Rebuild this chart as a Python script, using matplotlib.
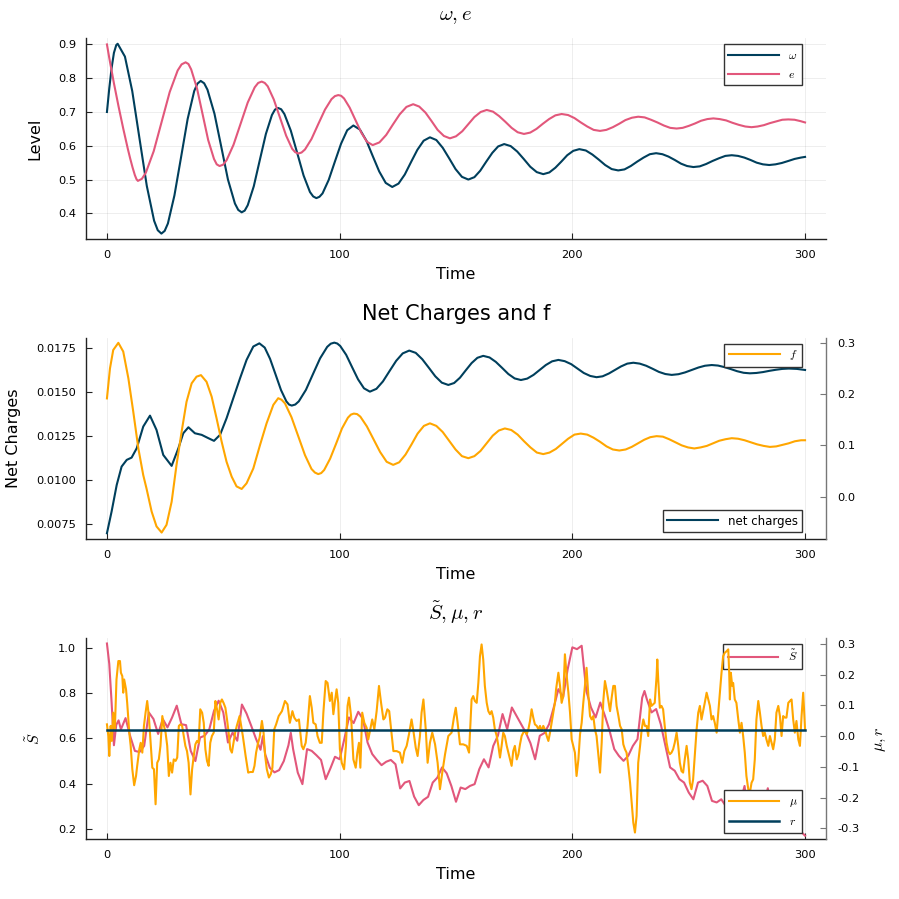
import matplotlib
matplotlib.use('Agg')
import matplotlib.pyplot as plt
from matplotlib.ticker import FormatStrFormatter

plt.rcParams['font.family'] = ['DejaVu Sans']
plt.rcParams['mathtext.fontset'] = 'cm'

DARK = '#003f5c'
PINK = '#e2577b'
ORANGE = '#ffa600'

# ---- panel 1: omega, e ----
omega_t = [0, 1, 2, 3, 4, 4.6,
           7.73, 10.87, 14.0, 17.13, 20.27, 21.83, 23.4, 24.81,
           26.2, 29.0, 31.85, 34.67, 37.5, 38.89, 40.3, 41.77,
           43.2, 46.2, 49.1, 52.0, 55.0, 56.43, 57.9, 59.2,
           60.5, 63.1, 65.7, 68.3, 70.9, 72.2, 73.5, 74.88,
           76.25, 79.0, 81.75, 84.5, 87.25, 88.63, 90.0, 91.33,
           92.65, 95.3, 97.95, 100.6, 103.25, 105.9,
           108.7, 111.5, 114.25, 117.0, 119.8, 122.6,
           125.3, 128.0, 130.7, 133.4, 136.1, 138.8,
           141.55, 144.3, 147.05, 149.8, 152.55, 155.3,
           157.9, 160.4, 163.0, 165.6, 168.1, 170.7,
           173.5, 176.3, 179.1, 181.9, 184.7, 187.5,
           190.1, 192.7, 195.25, 197.8, 200.4, 203.0,
           205.8, 208.6, 211.35, 214.1, 216.9, 219.7,
           222.4, 225.1, 227.85, 230.6, 233.3, 236.0,
           238.7, 241.3, 244.0, 246.7, 249.3, 252.0,
           254.75, 257.5, 260.25, 263.0, 265.75, 268.5,
           271.2, 273.9, 276.55, 279.2, 281.9, 284.6,
           287.3, 290.0, 292.8, 295.5, 298.2, 300]
omega = [0.700, 0.770, 0.830, 0.875, 0.898, 0.902,
         0.864, 0.762, 0.621, 0.481, 0.378, 0.350, 0.340, 0.348,
         0.370, 0.453, 0.566, 0.679, 0.762, 0.784, 0.792, 0.785,
         0.766, 0.695, 0.598, 0.500, 0.429, 0.410, 0.403, 0.408,
         0.424, 0.480, 0.558, 0.635, 0.691, 0.707, 0.712, 0.708,
         0.694, 0.645, 0.579, 0.512, 0.463, 0.450, 0.445, 0.449,
         0.459, 0.499, 0.553, 0.606, 0.646, 0.660,
         0.648, 0.615, 0.569, 0.524, 0.490, 0.478,
         0.488, 0.515, 0.552, 0.588, 0.615, 0.625,
         0.617, 0.594, 0.563, 0.531, 0.508, 0.500,
         0.507, 0.526, 0.553, 0.579, 0.598, 0.605,
         0.599, 0.583, 0.561, 0.538, 0.522, 0.516,
         0.521, 0.535, 0.553, 0.572, 0.585, 0.590,
         0.586, 0.574, 0.559, 0.543, 0.531, 0.527,
         0.530, 0.540, 0.553, 0.565, 0.575, 0.578,
         0.575, 0.568, 0.558, 0.547, 0.540, 0.537,
         0.539, 0.546, 0.555, 0.563, 0.570, 0.572,
         0.570, 0.565, 0.558, 0.550, 0.545, 0.543,
         0.545, 0.549, 0.555, 0.561, 0.565, 0.567]

e_t = [0, 1, 2, 3, 4, 5, 6, 7, 8, 9, 10, 11, 12, 12.7, 13.3,
       15.0, 16.7, 20.1, 23.55, 26.97, 30.4, 32.09, 33.8, 35.02,
       36.2, 38.7, 41.1, 43.5, 46.0, 47.18, 48.4, 49.91,
       51.4, 54.4, 57.45, 60.5, 63.5, 64.99, 66.5, 67.81,
       69.1, 71.7, 74.35, 77.0, 79.6, 80.89, 82.2, 83.63,
       85.1, 87.9, 90.8, 93.7, 96.5, 97.97, 99.4, 100.63,
       101.9, 104.3, 106.8, 109.3, 111.7, 114.2,
       117.1, 120.0, 122.9, 125.8, 128.7, 131.6,
       134.2, 136.9, 139.5, 142.1, 144.8, 147.4,
       150.0, 152.7, 155.3, 157.9, 160.6, 163.2,
       165.9, 168.5, 171.2, 173.9, 176.5, 179.2,
       181.9, 184.6, 187.3, 190.0, 192.7, 195.4,
       198.15, 200.9, 203.65, 206.4, 209.15, 211.9,
       214.6, 217.4, 220.1, 222.8, 225.6, 228.3,
       231.05, 233.8, 236.55, 239.3, 242.05, 244.8,
       247.4, 250.1, 252.7, 255.3, 258.0, 260.6,
       263.3, 266.1, 268.8, 271.5, 274.3, 277.0,
       279.6, 282.3, 284.9, 287.5, 290.2, 292.8,
       295.5, 298.0, 300]
e_vals = [0.900, 0.860, 0.822, 0.785, 0.750, 0.716, 0.683, 0.651, 0.620, 0.590,
          0.562, 0.536, 0.513, 0.501, 0.496,
          0.502, 0.520, 0.584, 0.672, 0.759, 0.823, 0.841, 0.847, 0.842,
          0.826, 0.770, 0.694, 0.617, 0.561, 0.545, 0.540, 0.544,
          0.557, 0.603, 0.665, 0.728, 0.773, 0.786, 0.790, 0.786,
          0.776, 0.737, 0.684, 0.630, 0.591, 0.581, 0.577, 0.580,
          0.589, 0.620, 0.664, 0.707, 0.738, 0.747, 0.750, 0.748,
          0.740, 0.713, 0.676, 0.639, 0.612, 0.602,
          0.610, 0.632, 0.663, 0.693, 0.715, 0.723,
          0.716, 0.698, 0.673, 0.647, 0.629, 0.622,
          0.628, 0.643, 0.664, 0.685, 0.700, 0.706,
          0.701, 0.688, 0.671, 0.653, 0.640, 0.635,
          0.639, 0.650, 0.665, 0.679, 0.690, 0.694,
          0.691, 0.682, 0.669, 0.657, 0.647, 0.644,
          0.647, 0.655, 0.665, 0.676, 0.683, 0.686,
          0.684, 0.677, 0.669, 0.660, 0.653, 0.651,
          0.653, 0.659, 0.666, 0.674, 0.679, 0.681,
          0.679, 0.675, 0.668, 0.662, 0.657, 0.655,
          0.657, 0.661, 0.667, 0.672, 0.677, 0.678,
          0.677, 0.673, 0.669]

# ---- panel 2: net charges (left), f (right) ----
nc_t = [0, 2.0, 4.2, 6.3, 8.5, 10.6, 12.8, 15.6, 18.5, 21.3,
        24.2, 27.8, 30.7, 32.8, 35.0, 37.8, 40.7, 43.6, 46.0, 48.6,
        51.4, 54.3, 57.2, 60.0, 62.9, 65.5,
        67.8, 70.1, 72.45, 74.8, 77.1, 78.24, 79.4, 80.93,
        82.45, 85.5, 88.55, 91.6, 94.65, 96.18, 97.7, 98.98,
        100.25, 102.8, 105.35, 107.9, 110.45, 113.0,
        115.8, 118.6, 121.45, 124.3, 127.1, 129.9,
        132.7, 135.5, 138.3, 141.1, 143.9, 146.7,
        149.2, 151.7, 154.2, 156.7, 159.2, 161.7,
        164.4, 167.1, 169.8, 172.5, 175.2, 177.9,
        180.6, 183.3, 185.95, 188.6, 191.3, 194.0,
        196.7, 199.5, 202.2, 204.9, 207.7, 210.4,
        213.0, 215.7, 218.3, 220.9, 223.6, 226.2,
        228.95, 231.7, 234.45, 237.2, 239.95, 242.7,
        245.6, 248.4, 251.3, 254.2, 257.0, 259.9,
        262.6, 265.4, 268.1, 270.8, 273.6, 276.3,
        279.1, 281.9, 284.65, 287.4, 290.2, 293.0,
        296.5, 300]
net_charges = [0.00699, 0.00822, 0.00973, 0.01077, 0.01115, 0.01128, 0.01181, 0.01304, 0.01366, 0.01285,
               0.01143, 0.01081, 0.01181, 0.01266, 0.01300, 0.01266, 0.01257, 0.01238, 0.01223, 0.01257,
               0.01351, 0.01465, 0.01578, 0.01682, 0.01758, 0.01776,
               0.01752, 0.01688, 0.01600, 0.01511, 0.01447, 0.01429, 0.01423, 0.01429,
               0.01447, 0.01512, 0.01602, 0.01691, 0.01756, 0.01774, 0.01780, 0.01775,
               0.01761, 0.01711, 0.01641, 0.01572, 0.01521, 0.01502,
               0.01518, 0.01560, 0.01619, 0.01677, 0.01719, 0.01735,
               0.01722, 0.01686, 0.01638, 0.01589, 0.01553, 0.01540,
               0.01551, 0.01581, 0.01623, 0.01664, 0.01694, 0.01705,
               0.01696, 0.01671, 0.01637, 0.01602, 0.01577, 0.01568,
               0.01576, 0.01597, 0.01625, 0.01653, 0.01674, 0.01682,
               0.01675, 0.01658, 0.01633, 0.01608, 0.01591, 0.01584,
               0.01589, 0.01605, 0.01625, 0.01645, 0.01661, 0.01666,
               0.01661, 0.01649, 0.01632, 0.01614, 0.01602, 0.01597,
               0.01601, 0.01611, 0.01625, 0.01639, 0.01649, 0.01653,
               0.01650, 0.01641, 0.01630, 0.01618, 0.01609, 0.01606,
               0.01608, 0.01613, 0.01620, 0.01626, 0.01631, 0.01633,
               0.01631, 0.01625]

f_t = [0, 1.3, 2.7, 4.9, 7.0, 9.2, 11.3, 13.5, 15.6, 17.0,
       19.2, 21.3, 23.5, 25.6, 27.8, 29.9, 32.1, 34.2, 36.4, 38.5,
       40.4, 42.8, 45.0, 47.1, 49.3, 51.4, 53.6, 55.7, 57.9, 60.0,
       62.9, 65.8, 68.6, 71.5, 73.6,
       75.03, 76.5, 79.3, 82.2, 85.1, 87.9, 89.37, 90.8, 92.08,
       93.35, 95.9, 98.45, 101.0, 103.55, 104.83, 106.1, 107.51,
       108.9, 111.7, 114.55, 117.4, 120.2, 123.0,
       125.6, 128.3, 130.9, 133.5, 136.2, 138.8,
       141.55, 144.3, 147.05, 149.8, 152.55, 155.3,
       157.9, 160.5, 163.15, 165.8, 168.4, 171.0,
       173.75, 176.5, 179.25, 182.0, 184.75, 187.5,
       190.2, 192.9, 195.55, 198.2, 200.9, 203.6,
       206.4, 209.1, 211.9, 214.7, 217.4, 220.2,
       222.9, 225.5, 228.2, 230.9, 233.5, 236.2,
       238.9, 241.6, 244.3, 247.0, 249.7, 252.4,
       255.1, 257.8, 260.45, 263.1, 265.8, 268.5,
       271.2, 274.0, 276.7, 279.4, 282.2, 284.9,
       287.6, 290.3, 292.95, 295.6, 298.3, 300]
f_vals = [0.1916, 0.250, 0.286, 0.300, 0.283, 0.231, 0.166, 0.094, 0.042, 0.016,
          -0.029, -0.058, -0.070, -0.055, -0.010, 0.062, 0.127, 0.185, 0.221, 0.234,
          0.237, 0.224, 0.195, 0.153, 0.107, 0.068, 0.039, 0.020, 0.015, 0.026,
          0.055, 0.101, 0.143, 0.179, 0.192,
          0.189, 0.182, 0.155, 0.118, 0.081, 0.054, 0.047, 0.044, 0.046,
          0.052, 0.074, 0.103, 0.133, 0.154, 0.160, 0.162, 0.161,
          0.156, 0.137, 0.112, 0.087, 0.068, 0.062,
          0.067, 0.082, 0.102, 0.123, 0.138, 0.143,
          0.138, 0.126, 0.109, 0.092, 0.079, 0.075,
          0.079, 0.089, 0.104, 0.119, 0.129, 0.133,
          0.130, 0.121, 0.108, 0.096, 0.086, 0.083,
          0.086, 0.093, 0.103, 0.113, 0.121, 0.123,
          0.121, 0.115, 0.107, 0.098, 0.092, 0.090,
          0.092, 0.097, 0.104, 0.111, 0.116, 0.118,
          0.117, 0.112, 0.106, 0.100, 0.096, 0.094,
          0.096, 0.099, 0.104, 0.109, 0.112, 0.114,
          0.113, 0.110, 0.106, 0.102, 0.099, 0.097,
          0.098, 0.101, 0.104, 0.108, 0.110, 0.110]

# ---- panel 3: S tilde (left), mu and r (right) ----
s_t = [0, 1, 2, 3, 4, 5, 6, 8, 10, 12,
       14, 16, 18, 20, 22, 24, 26, 28, 30, 32,
       34, 36, 38, 40, 42, 44, 46, 48, 50, 52,
       54, 56, 58, 60, 62, 64, 66, 67, 68, 70,
       72, 74, 76, 78, 79, 80, 82, 84, 86, 88,
       90, 92, 94, 96, 98, 100, 102, 104, 106, 108,
       110, 112, 114, 116, 118, 120, 122, 124, 126, 128,
       130, 132, 134, 136, 138, 140, 142, 144, 146, 148,
       150, 152, 154, 156, 158, 160, 162, 164, 166, 168,
       170, 172, 174, 176, 178, 180, 182, 184, 186, 188,
       190, 192, 194, 196, 198, 200, 202, 204, 206, 208,
       210, 212, 214, 216, 218, 220, 222, 224, 226, 228,
       230, 231, 232, 234, 236, 238, 240, 242, 244, 246,
       248, 250, 252, 254, 256, 258, 260, 262, 264, 266,
       268, 270, 272, 274, 275, 276, 278, 280, 282, 284,
       285, 286, 288, 290, 292, 294, 296, 298, 300]
s_tilde = [1.02, 0.93, 0.76, 0.57, 0.66, 0.68, 0.64, 0.69, 0.61, 0.545,
           0.54, 0.567, 0.715, 0.686, 0.62, 0.686, 0.649, 0.693, 0.745, 0.663,
           0.659, 0.545, 0.50, 0.604, 0.612, 0.641, 0.722, 0.767, 0.715, 0.582,
           0.626, 0.59, 0.75, 0.71, 0.656, 0.60, 0.55, 0.61, 0.53, 0.47,
           0.45, 0.46, 0.50, 0.57, 0.625, 0.553, 0.449, 0.398, 0.553, 0.545,
           0.526, 0.505, 0.42, 0.467, 0.519, 0.508, 0.597, 0.693, 0.668, 0.718,
           0.686, 0.582, 0.531, 0.505, 0.482, 0.497, 0.505, 0.486, 0.379, 0.405,
           0.412, 0.343, 0.305, 0.328, 0.342, 0.405, 0.427, 0.472, 0.446, 0.39,
           0.32, 0.383, 0.376, 0.39, 0.398, 0.464, 0.508, 0.472, 0.567, 0.612,
           0.708, 0.641, 0.737, 0.70, 0.663, 0.626, 0.579, 0.508, 0.612, 0.624,
           0.663, 0.737, 0.818, 0.781, 0.907, 1.003, 0.995, 1.01, 0.811, 0.737,
           0.693, 0.759, 0.70, 0.634, 0.553, 0.523, 0.501, 0.523, 0.567, 0.597,
           0.78, 0.81, 0.774, 0.715, 0.73, 0.663, 0.567, 0.472, 0.457, 0.42,
           0.405, 0.361, 0.331, 0.405, 0.413, 0.39, 0.324, 0.317, 0.331, 0.30,
           0.29, 0.30, 0.31, 0.39, 0.30, 0.28, 0.29, 0.30, 0.29, 0.38,
           0.30, 0.28, 0.27, 0.26, 0.25, 0.23, 0.22, 0.19, 0.17]

mu_t = [0, 0.6, 1.0, 1.6, 2.1, 2.7, 3.4, 4.1, 4.9, 5.6,
        6.0, 6.6, 7.0, 7.4, 8.2, 8.7, 9.1, 9.6, 10.2, 10.9,
        11.7, 12.5, 13.0, 13.9, 14.5, 15.2, 15.9, 16.6, 17.3, 18.0,
        18.8, 19.5, 20.2, 20.9, 21.6, 22.3, 23.0, 23.8, 24.5, 25.2,
        25.9, 26.6, 27.3, 28.0, 28.7, 29.5, 30.2, 30.9, 31.6, 32.3,
        33.0, 33.7, 34.4, 35.1, 35.9, 36.6, 37.3, 38.0, 38.7, 39.4,
        40.1, 40.9, 41.6, 42.3, 43.0, 43.7, 44.4, 45.1, 45.9, 46.6,
        47.3, 48.0, 48.7, 49.4, 50.1, 50.9, 51.6, 52.3, 53.0, 53.7,
        54.4, 55.1, 55.8, 57.0, 57.7, 58.4, 59.6, 60.7, 61.6, 62.7,
        63.4, 64.1, 64.8, 65.6, 66.6, 67.3, 68.0, 68.7, 69.6, 70.4,
        71.1, 71.9, 72.7, 73.8, 75.2,
        76.5, 77.6, 78.6, 79.7, 80.5, 81.5, 82.5, 83.7, 84.4, 85.4,
        86.2, 87.2, 88.0, 88.7, 89.7, 90.5, 91.5, 92.3, 93.0, 94.0,
        94.8, 95.8, 96.6, 97.3, 98.0, 98.7, 99.4, 100.1, 100.9, 101.9,
        102.7, 103.4, 104.0, 104.9, 105.9, 106.9, 107.6, 108.3, 108.9, 109.7,
        110.6, 111.6, 112.3, 113.0, 114.0, 114.9, 115.9, 116.9, 117.8, 118.8,
        119.5, 120.5, 121.3, 122.1, 123.1, 124.5, 125.9, 126.9, 127.8, 128.8,
        129.8, 130.9, 131.7, 132.7, 133.5, 134.5, 135.2, 136.0, 137.0, 137.8,
        138.8, 139.8, 141.0, 142.1, 143.1, 144.1, 145.3, 146.7, 148.1, 149.1,
        149.9, 150.7, 151.7, 153.1, 154.6, 155.6,
        156.7, 157.4, 158.1, 158.9, 159.6, 160.3, 161.0, 161.7, 162.4, 163.2,
        163.9, 164.6, 165.3, 166.0, 166.7, 167.5, 168.2, 168.9, 169.6, 170.3,
        171.0, 171.8, 172.5, 173.2, 173.9, 174.6, 175.3, 176.1, 176.8, 177.5,
        178.2, 178.9, 179.6, 180.4, 181.1, 181.8, 182.5, 183.2, 183.9, 184.7,
        185.4, 186.1, 186.8, 187.5, 188.2, 189.0, 189.7, 190.4, 191.1, 191.8,
        192.5, 193.0, 194.0, 194.7, 195.4, 196.1, 196.8, 197.5, 198.3, 199.0,
        199.7, 200.4, 201.1, 201.8, 202.6, 203.3, 204.0, 204.7, 205.4, 206.1,
        206.9, 207.6, 208.3, 209.0, 209.7, 210.4, 211.2, 211.9, 212.6, 213.3,
        214.0, 214.7, 215.5, 216.2, 216.9, 217.6, 218.3, 219.0, 219.8, 220.5,
        221.2, 221.9, 222.6, 223.3, 224.1, 224.8, 225.5, 226.2, 226.9, 227.6,
        228.3, 229.1, 229.8, 230.5, 231.2, 231.9, 232.6, 233.4,
        234.0, 235.4, 236.2, 236.5, 236.9, 237.6, 238.3, 239.0, 239.7, 240.5,
        241.2, 241.9, 242.6, 243.3, 244.0, 244.8, 245.5, 246.2, 246.9, 247.6,
        248.3, 249.1, 249.8, 250.5, 251.2, 251.9, 252.6, 253.4, 254.1, 254.8,
        255.5, 256.2, 256.9, 257.7, 258.4, 259.1, 259.8, 260.5, 261.2, 262.0,
        262.7, 263.4, 264.1, 264.8, 265.5, 266.3, 267.0, 267.4, 267.7, 268.1,
        268.7, 269.1, 269.8, 270.5, 271.3, 272.0, 272.7, 273.4, 274.1, 274.8,
        275.6, 276.3, 277.0, 277.7, 278.4, 279.1, 279.9, 280.6, 281.3, 282.0,
        282.7, 283.4, 284.2, 284.9, 285.6, 286.3, 287.0, 287.7, 288.5, 289.2,
        289.9, 290.6, 291.3, 292.0, 292.8, 293.5, 294.2, 294.9, 295.6, 296.3,
        297.1, 297.8, 298.5, 299.2, 300.0]
mu = [0.038, 0.0, -0.065, 0.033, -0.016, 0.076, 0.022, 0.184, 0.244, 0.244,
      0.206, 0.195, 0.141, 0.184, 0.152, 0.108, 0.065, 0.011, -0.032, -0.108,
      -0.160, -0.130, -0.097, -0.043, -0.022, -0.054, 0.033, 0.076, 0.114, 0.065,
      -0.022, -0.103, -0.108, -0.222, -0.087, -0.076, -0.032, 0.065, 0.033, 0.011,
      -0.032, -0.130, -0.087, -0.119, -0.076, -0.081, -0.070, 0.033, 0.038, 0.033,
      0.0, -0.032, -0.049, -0.087, -0.190, -0.108, -0.065, -0.027, -0.016, -0.022,
      0.087, 0.076, 0.043, -0.043, -0.081, -0.097, -0.022, 0.0, 0.011, 0.114,
      0.087, 0.054, 0.108, 0.119, 0.108, 0.092, 0.054, 0.011, -0.043, -0.054,
      -0.022, 0.011, 0.033, 0.065, 0.033, 0.0, -0.065, -0.119, -0.117, -0.117,
      -0.097, -0.054, -0.027, -0.005, 0.049, 0.011, -0.065, -0.108, -0.135, -0.124,
      -0.103, 0.022, 0.038, 0.065, 0.081,
      0.114, 0.103, 0.043, 0.081, 0.060, 0.049, 0.054, -0.032, -0.043, -0.022,
      0.033, 0.130, 0.092, 0.043, 0.038, 0.0, -0.022, -0.022, 0.076, 0.179,
      0.173, 0.114, 0.141, 0.071, 0.114, 0.152, 0.108, -0.043, -0.087, -0.108,
      -0.032, 0.098, 0.125, 0.065, -0.076, -0.103, -0.054, -0.022, -0.103, 0.076,
      0.043, 0.027, -0.011, 0.016, 0.054, 0.022, 0.081, 0.163, 0.108, 0.054,
      0.060, 0.087, 0.081, 0.022, -0.049, -0.049, -0.054, -0.087, -0.049, -0.032,
      0.006, 0.054, 0.016, -0.038, -0.065, 0.0, 0.076, 0.119, 0.022, -0.087,
      -0.022, 0.011, -0.027, -0.087, -0.173, -0.119, -0.059, 0.0, 0.011, 0.060,
      0.092, 0.043, -0.027, -0.027, -0.032, -0.054,
      0.119, 0.130, 0.114, 0.108, 0.173, 0.260, 0.298, 0.249, 0.163, 0.108,
      0.081, 0.071, 0.081, 0.060, 0.022, 0.0, -0.032, -0.070, -0.032, 0.011,
      0.0, -0.032, -0.054, -0.076, -0.097, -0.049, -0.032, -0.076, -0.060, -0.027,
      0.0, 0.011, 0.016, 0.006, 0.022, 0.049, 0.087, 0.060, 0.038, 0.033,
      0.022, 0.033, 0.016, 0.033, 0.022, 0.0, -0.016, 0.011, 0.043, 0.076,
      0.108, 0.152, 0.206, 0.163, 0.108, 0.130, 0.266, 0.201, 0.141, 0.076,
      -0.011, -0.032, -0.054, -0.130, -0.076, 0.006, 0.043, 0.108, 0.163, 0.222,
      0.130, 0.065, 0.054, 0.065, 0.022, 0.0, -0.065, -0.119, -0.022, 0.114,
      0.179, 0.152, 0.114, 0.081, 0.125, 0.163, 0.163, 0.098, 0.065, 0.033,
      0.022, -0.027, -0.043, -0.054, -0.103, -0.152, -0.217, -0.282, -0.314, -0.260,
      -0.087, -0.032, 0.022, 0.054, 0.033, 0.033, 0.0, 0.119,
      0.098, 0.108, 0.195, 0.249, 0.184, 0.092, 0.098, 0.087, 0.033, -0.022,
      -0.049, -0.059, -0.054, -0.043, -0.022, 0.011, -0.032, -0.087, -0.114, -0.119,
      -0.076, -0.032, -0.076, -0.152, -0.173, -0.141, -0.065, 0.022, 0.076, 0.098,
      0.054, 0.081, 0.108, 0.141, 0.119, 0.098, 0.054, 0.065, 0.043, 0.011,
      0.076, 0.141, 0.206, 0.260, 0.271, 0.276, 0.282, 0.206, 0.119, 0.206,
      0.163, 0.173, 0.119, 0.108, 0.054, 0.011, 0.043, 0.0, -0.054, -0.130,
      -0.173, -0.184, -0.152, -0.141, -0.076, 0.054, 0.114, 0.076, 0.033, 0.0,
      0.011, -0.011, -0.032, 0.0, -0.022, -0.043, -0.011, 0.076, 0.098, 0.065,
      0.0, 0.065, 0.060, 0.060, 0.108, 0.114, 0.119, 0.054, 0.011, 0.049,
      -0.011, -0.032, 0.065, 0.141, 0.022]

r_t = [0, 300]
r_vals = [0.02, 0.02]

x_ticks = [0, 100, 200, 300]

TICK_FS = 8.2
LABEL_FS = 11.5
TITLE_FS = 15
LEG_FS = 8.5


def style_left(ax, ygrid=True):
    for s in ['top', 'right']:
        ax.spines[s].set_visible(False)
    for s in ['left', 'bottom']:
        ax.spines[s].set_linewidth(1.0)
        ax.spines[s].set_color('#222222')
    ax.tick_params(direction='in', length=4, width=0.8, labelsize=TICK_FS,
                   color='#222222')
    ax.tick_params(axis='x', pad=8)
    ax.tick_params(axis='y', pad=7)
    ax.set_xlim(-9, 309)
    ax.set_xticks(x_ticks)
    ax.grid(True, axis='x', color='black', alpha=0.08, lw=0.6)
    if ygrid:
        ax.grid(True, axis='y', color='black', alpha=0.08, lw=0.6)
    ax.set_axisbelow(True)
    ax.set_xlabel('Time', fontsize=LABEL_FS, labelpad=5)


def style_right(ax):
    for s in ['top', 'left', 'bottom']:
        ax.spines[s].set_visible(False)
    ax.spines['right'].set_color('#777777')
    ax.spines['right'].set_linewidth(1.0)
    ax.tick_params(axis='y', direction='in', length=4, width=0.8,
                   labelsize=TICK_FS, color='#777777', labelcolor='black', pad=8)


def add_legend(ax, loc, anchor):
    leg = ax.legend(loc=loc, bbox_to_anchor=anchor, fontsize=LEG_FS,
                    frameon=True, fancybox=False, framealpha=1,
                    edgecolor='#333333', handlelength=4.3, borderaxespad=0)
    leg.get_frame().set_linewidth(1.0)
    return leg


fig = plt.figure(figsize=(8.99, 8.99), dpi=100)
left, width, height = 86 / 899, 740 / 899, 201 / 899

# panel 1
ax1 = fig.add_axes([left, 1 - 239 / 899, width, height])
ax1.plot(omega_t, omega, color=DARK, lw=1.5, label=r'$\omega$')
ax1.plot(e_t, e_vals, color=PINK, lw=1.5, label=r'$e$')
style_left(ax1)
ax1.set_ylim(0.324, 0.919)
ax1.set_yticks([0.4, 0.5, 0.6, 0.7, 0.8, 0.9])
ax1.yaxis.set_major_formatter(FormatStrFormatter('%.1f'))
ax1.set_ylabel('Level', fontsize=LABEL_FS, labelpad=11)
ax1.set_title(r'$\omega, e$', fontsize=TITLE_FS, pad=13)
add_legend(ax1, 'upper right', (0.968, 0.97))

# panel 2
ax2 = fig.add_axes([left, 1 - 538.7 / 899, width, height])
ax2.plot(nc_t, net_charges, color=DARK, lw=1.5, label='net charges')
style_left(ax2, ygrid=False)
ax2.set_ylim(0.00668, 0.01808)
ax2.set_yticks([0.0075, 0.0100, 0.0125, 0.0150, 0.0175])
ax2.yaxis.set_major_formatter(FormatStrFormatter('%.4f'))
ax2.set_ylabel('Net Charges', fontsize=LABEL_FS, labelpad=11)
ax2.set_title('Net Charges and f', fontsize=TITLE_FS, pad=13)
add_legend(ax2, 'lower right', (0.968, 0.032))

ax2r = ax2.twinx()
ax2r.plot(f_t, f_vals, color=ORANGE, lw=1.5, label=r'$f$')
style_right(ax2r)
ax2r.set_ylim(-0.082, 0.310)
ax2r.set_yticks([0.0, 0.1, 0.2, 0.3])
ax2r.yaxis.set_major_formatter(FormatStrFormatter('%.1f'))
add_legend(ax2r, 'upper right', (0.968, 0.97))

# panel 3
ax3 = fig.add_axes([left, 1 - 839.3 / 899, width, height])
ax3.plot(s_t, s_tilde, color=PINK, lw=1.5, label=r'$\tilde{S}$')
style_left(ax3, ygrid=False)
ax3.set_ylim(0.154, 1.043)
ax3.set_yticks([0.2, 0.4, 0.6, 0.8, 1.0])
ax3.yaxis.set_major_formatter(FormatStrFormatter('%.1f'))
ax3.set_ylabel(r'$\tilde{S}$', fontsize=LABEL_FS, labelpad=11)
ax3.set_title(r'$\tilde{S}, \mu, r$', fontsize=TITLE_FS, pad=13)
add_legend(ax3, 'upper right', (0.968, 0.97))

ax3r = ax3.twinx()
ax3r.plot(mu_t, mu, color=ORANGE, lw=1.5, label=r'$\mu$')
ax3r.plot(r_t, r_vals, color=DARK, lw=1.8, label=r'$r$')
style_right(ax3r)
ax3r.set_ylim(-0.336, 0.318)
ax3r.set_yticks([-0.3, -0.2, -0.1, 0.0, 0.1, 0.2, 0.3])
ax3r.yaxis.set_major_formatter(FormatStrFormatter('%.1f'))
ax3r.set_ylabel(r'$\mu, r$', fontsize=LABEL_FS, labelpad=10)
add_legend(ax3r, 'lower right', (0.968, 0.033))

fig.savefig('out.png', dpi=100, facecolor='white')
